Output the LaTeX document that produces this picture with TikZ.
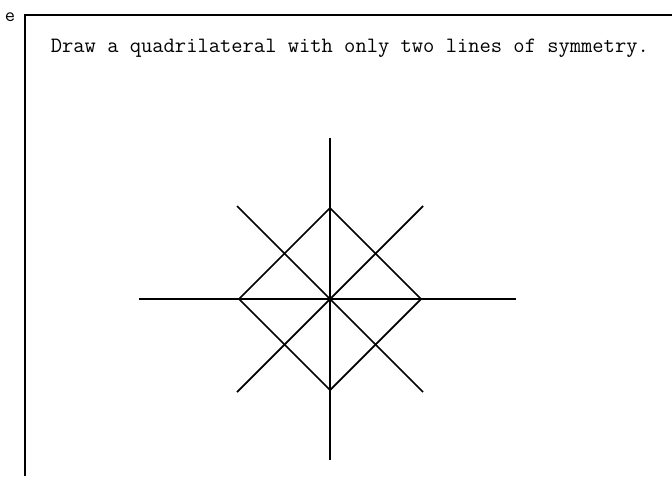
\documentclass[tikz,border=0pt]{standalone}
\usepackage{tikz}

\begin{document}
\begin{tikzpicture}[x=0.03cm, y=-0.03cm, line width=1.5pt,
		every node/.style={font=\ttfamily, inner sep=0pt}]
	\useasboundingbox (0,0) rectangle (672,476);
	
	% frame and heading
	\coordinate (F1) at (25,476);
	\coordinate (F2) at (25,15);
	\coordinate (F3) at (672,15);
	\draw[line width=1.1pt] (F1) -- (F2) -- (F3);
	\node[font=\ttfamily\fontsize{17}{19}\selectfont] (e) at (10,17) {e};
	\node[anchor=base west, font=\ttfamily\fontsize{18.7}{21}\selectfont] (task) at (50,52)
		{Draw a quadrilateral with only two lines of symmetry.};
	
	% square
	\coordinate (O) at (330,299);
	\coordinate (T) at (330,208);
	\coordinate (L) at (239,299);
	\coordinate (R) at (421,299);
	\coordinate (B) at (330,390);
	\draw (T) -- (R) -- (B) -- (L) -- cycle;
	
	% lines of symmetry
	\coordinate (V1) at (330,138);
	\coordinate (V2) at (330,460);
	\coordinate (H1) at (139,299);
	\coordinate (H2) at (516,299);
	\coordinate (D1) at (237,206);
	\coordinate (D2) at (423,392);
	\coordinate (D3) at (423,206);
	\coordinate (D4) at (237,392);
	\draw (V1) -- (V2);
	\draw (H1) -- (H2);
	\draw (D1) -- (D2);
	\draw (D3) -- (D4);
\end{tikzpicture}
\end{document}
